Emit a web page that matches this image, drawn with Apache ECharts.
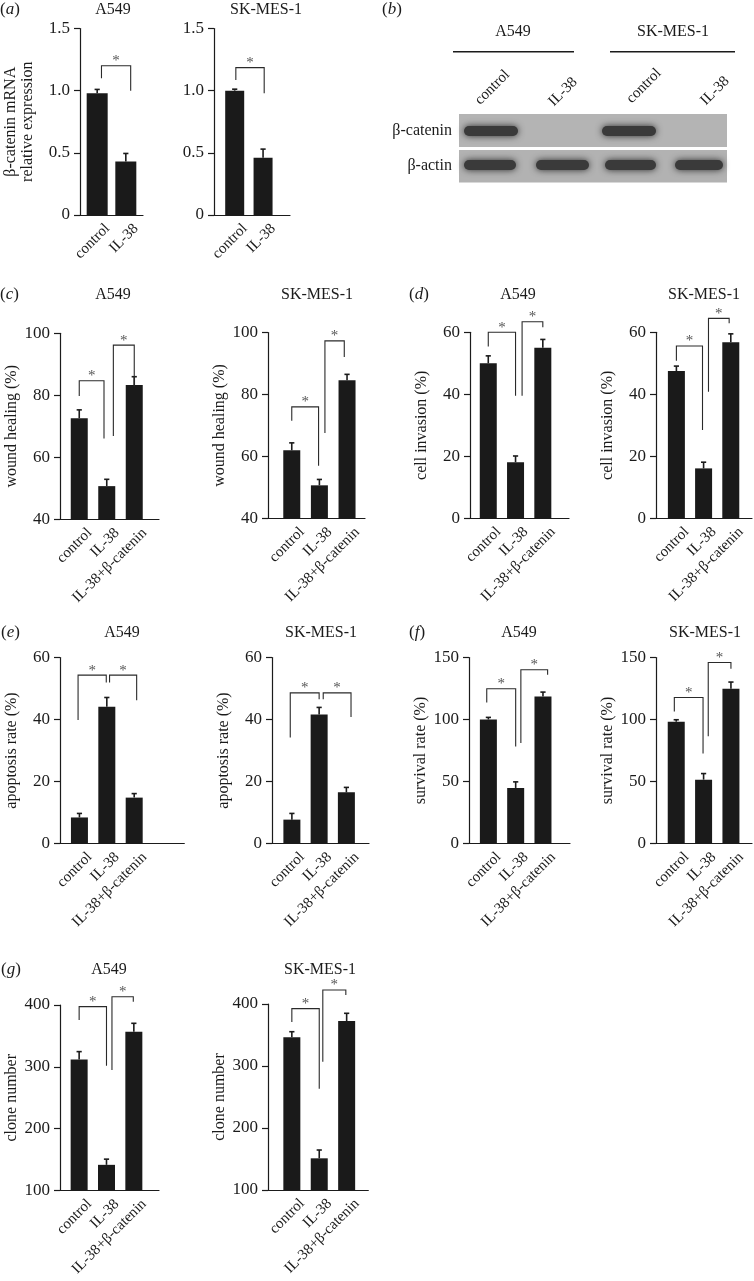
<!DOCTYPE html>
<html><head><meta charset="utf-8">
<script src="https://cdn.jsdelivr.net/npm/echarts@6/dist/echarts.min.js"></script>
<style>html,body{margin:0;padding:0;background:#fff}#c{width:754px;height:1281px}</style>
</head><body><div id="c"></div>
<script>
// ---------- DATA ----------
const cats2 = ['control', 'IL-38'];
const cats3 = ['control', 'IL-38', 'IL-38+β-catenin'];
const cellLines = ['A549', 'SK-MES-1'];

// (a) β-catenin mRNA relative expression
const aA549Mean = [0.98, 0.43];
const aA549Err  = [0.03, 0.065];
const aSKMean   = [1.0, 0.46];
const aSKErr    = [0.012, 0.07];
// significance brackets: [xStart, xEnd, yTop, yLeftEnd, yRightEnd] in data units
const aA549Sig = [[0.15, 1.17, 1.2, 1.1, 1.0]];
const aSKSig   = [[0.04, 1.04, 1.185, 1.086, 0.98]];

// (c) wound healing (%)
const cA549Mean = [72.6, 50.7, 83.3];
const cA549Err  = [2.7, 2.2, 2.7];
const cSKMean   = [62.0, 50.7, 84.6];
const cSKErr    = [2.4, 1.9, 1.9];
const cA549Sig = [[0, 0.9, 84.7, 79.8, 66.1], [1.24, 2.0, 96.2, 66.9, 82.8]];
const cSKSig   = [[0, 0.97, 76.0, 71.5, 57.0], [1.2, 1.9, 97.3, 67.6, 92.1]];

// (d) cell invasion (%)
const dA549Mean = [50.0, 18.1, 55.0];
const dA549Err  = [2.4, 2.0, 2.7];
const dSKMean   = [47.5, 16.1, 56.8];
const dSKErr    = [1.6, 2.0, 2.7];
const dA549Sig = [[0, 1.0, 60.0, 55.4, 39.5], [1.24, 2.0, 63.4, 39.5, 61.6]];
const dSKSig   = [[0, 0.96, 55.6, 50.8, 28.5], [1.18, 1.94, 64.5, 40.8, 62.9]];

// (e) apoptosis rate (%)
const eA549Mean = [8.4, 44.1, 14.8];
const eA549Err  = [1.3, 3.0, 1.3];
const eSKMean   = [7.7, 41.6, 16.5];
const eSKErr    = [2.0, 2.3, 1.6];
const eA549Sig = [[-0.05, 0.98, 54.3, 39.8, 51.9], [1.1, 2.09, 54.3, 51.9, 46.2]];
const eSKSig   = [[-0.06, 1.0, 48.6, 34.2, 46.5], [1.15, 2.17, 48.6, 46.5, 40.8]];

// (f) survival rate (%)
const fA549Mean = [100.0, 44.8, 118.6];
const fA549Err  = [1.7, 4.9, 3.5];
const fSKMean   = [98.2, 51.5, 124.8];
const fSKErr    = [1.6, 4.9, 5.4];
const fA549Sig = [[-0.06, 1.0, 124.8, 113.8, 78.3], [1.19, 2.17, 140.1, 81.1, 136.1]];
const fSKSig   = [[-0.07, 0.98, 117.8, 106.5, 72.5], [1.17, 2.0, 146.0, 86.4, 140.9]];

// (g) clone number
const gA549Mean = [312, 141.5, 356.9];
const gA549Err  = [12.6, 9.2, 13.5];
const gSKMean   = [346.3, 151.1, 372.6];
const gSKErr    = [9.0, 13.4, 12.4];
const gA549Sig = [[0, 1.0, 397.3, 375.8, 301.9], [1.2, 1.98, 413.4, 295.0, 405.4]];
const gSKSig   = [[0, 1.0, 392.6, 371.0, 263.5], [1.13, 1.97, 422.6, 306.9, 414.5]];

// y-axis scales [min, max, interval]
const aScale = [0, 1.5, 0.5];
const cScale = [40, 100, 20];
const dScale = [0, 60, 20];
const eScale = [0, 60, 20];
const fScale = [0, 150, 50];
const gScale = [100, 400, 100];

// western blot lanes (b)
const blotLanes = ['control', 'IL-38', 'control', 'IL-38'];
const blotRows = ['β-catenin', 'β-actin'];

// ---------- LAYOUT / STYLE ----------
const FONT = 'Liberation Serif';
const INK = '#1b1b1b';
const W = 754, H = 1281;
const LABEL_SHIFT_PX = 5;

const panels = [
  {cats: cats2, mean: aA549Mean, err: aA549Err, sig: aA549Sig, sc: aScale, dec: 1, name: 'β-catenin mRNA\nrelative expression', title: cellLines[0],
   box: [80, 143, 28.5, 215], xr: [-0.6, 1.6], bw: 21, tx: 113, ty: 10, gap: 44},
  {cats: cats2, mean: aSKMean, err: aSKErr, sig: aSKSig, sc: aScale, dec: 1, name: '', title: cellLines[1],
   box: [214, 290, 28.5, 215], xr: [-0.73, 1.95], bw: 19, tx: 266, ty: 10, gap: 44},
  {cats: cats3, mean: cA549Mean, err: cA549Err, sig: cA549Sig, sc: cScale, dec: 0, name: 'wound healing (%)', title: cellLines[0],
   box: [60, 159, 333.3, 519.3], xr: [-0.7, 2.9], bw: 17, tx: 113, ty: 295, gap: 40},
  {cats: cats3, mean: cSKMean, err: cSKErr, sig: cSKSig, sc: cScale, dec: 0, name: 'wound healing (%)', title: cellLines[1],
   box: [268, 365, 332.5, 518.5], xr: [-0.86, 2.65], bw: 17, tx: 317, ty: 295, gap: 40},
  {cats: cats3, mean: dA549Mean, err: dA549Err, sig: dA549Sig, sc: dScale, dec: 0, name: 'cell invasion (%)', title: cellLines[0],
   box: [470, 569, 332.3, 518.3], xr: [-0.67, 2.96], bw: 17, tx: 518, ty: 295, gap: 40},
  {cats: cats3, mean: dSKMean, err: dSKErr, sig: dSKSig, sc: dScale, dec: 0, name: 'cell invasion (%)', title: cellLines[1],
   box: [656, 752, 332.3, 518.3], xr: [-0.75, 2.78], bw: 17, tx: 704, ty: 295, gap: 40},
  {cats: cats3, mean: eA549Mean, err: eA549Err, sig: eA549Sig, sc: eScale, dec: 0, name: 'apoptosis rate (%)', title: cellLines[0],
   box: [60, 184.3, 657.5, 843.5], xr: [-0.71, 3.83], bw: 17, tx: 122, ty: 633, gap: 40},
  {cats: cats3, mean: eSKMean, err: eSKErr, sig: eSKSig, sc: eScale, dec: 0, name: 'apoptosis rate (%)', title: cellLines[1],
   box: [272, 369, 657.5, 843.5], xr: [-0.73, 2.83], bw: 17, tx: 321, ty: 633, gap: 40},
  {cats: cats3, mean: fA549Mean, err: fA549Err, sig: fA549Sig, sc: fScale, dec: 0, name: 'survival rate (%)', title: cellLines[0],
   box: [469, 570, 657.5, 843.5], xr: [-0.71, 2.99], bw: 17, tx: 519, ty: 633, gap: 40},
  {cats: cats3, mean: fSKMean, err: fSKErr, sig: fSKSig, sc: fScale, dec: 0, name: 'survival rate (%)', title: cellLines[1],
   box: [656, 752, 657.5, 843.5], xr: [-0.74, 2.77], bw: 17, tx: 705, ty: 633, gap: 40},
  {cats: cats3, mean: gA549Mean, err: gA549Err, sig: gA549Sig, sc: gScale, dec: 0, name: 'clone number', title: cellLines[0],
   box: [60, 159, 1005, 1190.5], xr: [-0.7, 2.92], bw: 17, tx: 109, ty: 970, gap: 40},
  {cats: cats3, mean: gSKMean, err: gSKErr, sig: gSKSig, sc: gScale, dec: 0, name: 'clone number', title: cellLines[1],
   box: [268, 368.3, 1004, 1190], xr: [-0.87, 2.79], bw: 17, tx: 320, ty: 970, gap: 40}
];

function errRender(params, api) {
  const x = api.value(0), m = api.value(1), e = api.value(2);
  const p0 = api.coord([x, m]), p1 = api.coord([x, m + e]);
  const hw = 2.6;
  const st = {stroke: INK, lineWidth: 1.6};
  return {type: 'group', children: [
    {type: 'line', shape: {x1: p0[0], y1: p0[1], x2: p1[0], y2: p1[1]}, style: st},
    {type: 'line', shape: {x1: p1[0] - hw, y1: p1[1], x2: p1[0] + hw, y2: p1[1]}, style: st}
  ]};
}
function sigRender(params, api) {
  const x1 = api.value(0), x2 = api.value(1), yt = api.value(2), yl = api.value(3), yr = api.value(4);
  const a = api.coord([x1, yl]), b = api.coord([x1, yt]), c = api.coord([x2, yt]), d = api.coord([x2, yr]);
  return {type: 'group', children: [
    {type: 'polyline', shape: {points: [a, b, c, d]}, style: {stroke: '#2a2a2a', lineWidth: 1.1, fill: null}},
    {type: 'text', x: (b[0] + c[0]) / 2, y: b[1] - 4.5,
     style: {text: '*', fill: '#555', font: '15px "' + FONT + '"', align: 'center', verticalAlign: 'middle', textAlign: 'center', textVerticalAlign: 'middle'}}
  ]};
}

const grid = [], xAxis = [], yAxis = [], series = [], graphic = [];
const txt = (t, x, y, o) => Object.assign({type: 'text', x: x, y: y, silent: true,
  style: Object.assign({text: t, fill: INK, font: '16px "' + FONT + '"', align: 'center', verticalAlign: 'middle', textAlign: 'center', textVerticalAlign: 'middle'}, (o && o.style) || {})},
  o ? {rotation: o.rotation || 0} : {});

panels.forEach((p, i) => {
  const [l, r, t, b] = p.box;
  grid.push({left: l, width: r - l, top: t, height: b - t, containLabel: false, outerBoundsMode: 'none'});
  const ax = {color: INK, width: 1.2};
  const ppu = (r - l) / (p.xr[1] - p.xr[0]);
  const shift = LABEL_SHIFT_PX / ppu;
  const cv = p.cats.map((c, j) => j + shift);
  xAxis.push({gridIndex: i, type: 'value', min: p.xr[0], max: p.xr[1],
    axisLine: {show: true, onZero: false, lineStyle: ax}, axisTick: {show: false}, splitLine: {show: false},
    axisLabel: {rotate: 45, customValues: cv, margin: 6, verticalAlign: 'top', fontFamily: FONT, fontSize: 15, color: INK,
      formatter: v => p.cats[Math.round(v - shift)] || ''}});
  yAxis.push({gridIndex: i, type: 'value', min: p.sc[0], max: p.sc[1], interval: p.sc[2],
    axisLine: {show: true, onZero: false, lineStyle: ax},
    axisTick: {show: true, inside: false, length: 6, lineStyle: ax}, splitLine: {show: false},
    axisLabel: {margin: 10, fontFamily: FONT, fontSize: 17, color: INK,
      formatter: v => (p.dec && v !== 0) ? v.toFixed(p.dec) : String(v)},
    name: p.name, nameLocation: 'middle', nameRotate: 90, nameGap: p.gap,
    nameTextStyle: {fontFamily: FONT, fontSize: 16, color: INK, lineHeight: 17}});
  series.push({type: 'bar', xAxisIndex: i, yAxisIndex: i, barWidth: p.bw, clip: true,
    itemStyle: {color: '#1a1a1a'}, data: p.mean.map((m, j) => [j, m]), silent: true, z: 2});
  series.push({type: 'custom', xAxisIndex: i, yAxisIndex: i, renderItem: errRender, clip: false,
    data: p.mean.map((m, j) => [j, m, p.err[j]]), encode: {x: 0, y: 1}, silent: true, z: 3});
  series.push({type: 'custom', xAxisIndex: i, yAxisIndex: i, renderItem: sigRender, clip: false,
    data: p.sig, encode: {x: [0, 1], y: [2, 3, 4]}, silent: true, z: 4});
  graphic.push(txt(p.title, p.tx, p.ty));
});

// panel letters
const letters = [['a', 0, 10], ['b', 382, 10], ['c', 0, 295], ['d', 409, 295], ['e', 1, 633], ['f', 409, 633], ['g', 1, 970]];
letters.forEach(([s, x, y]) => {
  graphic.push({type: 'text', x: x, y: y, silent: true, style: {text: '{p|(}{i|' + s + '}{p|)}', align: 'left', verticalAlign: 'middle', textAlign: 'left', textVerticalAlign: 'middle',
    rich: {p: {fontFamily: FONT, fontSize: 17, fill: INK, color: INK}, i: {fontFamily: FONT, fontSize: 17, fontStyle: 'italic', fill: INK, color: INK}}}});
});

// (b) western blot
graphic.push(txt(cellLines[0], 513, 32));
graphic.push(txt(cellLines[1], 673, 32));
graphic.push({type: 'line', silent: true, shape: {x1: 453, y1: 51.7, x2: 574, y2: 51.7}, style: {stroke: INK, lineWidth: 1.4}});
graphic.push({type: 'line', silent: true, shape: {x1: 610, y1: 51.7, x2: 735, y2: 51.7}, style: {stroke: INK, lineWidth: 1.4}});
const laneLabelPos = [[492.5, 87.5], [563, 92], [644, 86], [715, 91]];
blotLanes.forEach((s, k) => graphic.push(txt(s, laneLabelPos[k][0], laneLabelPos[k][1], {rotation: Math.PI / 4, style: {font: '15px "' + FONT + '"'}})));
graphic.push(txt(blotRows[0], 452, 130.5, {style: {align: 'right', textAlign: 'right'}}));
graphic.push(txt(blotRows[1], 452, 165.5, {style: {align: 'right', textAlign: 'right'}}));
graphic.push({type: 'rect', silent: true, shape: {x: 459, y: 114, width: 268, height: 33}, style: {fill: '#b4b4b4'}});
graphic.push({type: 'rect', silent: true, shape: {x: 459, y: 150, width: 268, height: 32.5}, style: {fill: '#b2b2b2'}});
const bands = [[464, 126, 54], [602, 126, 54], [464, 160, 52], [536, 160, 53], [605, 160, 51], [675, 160, 48]];
bands.forEach(([x, y, w]) => graphic.push({type: 'rect', silent: true, shape: {x: x, y: y, width: w, height: 10, r: 5},
  style: {fill: '#3a3a3a', shadowBlur: 7, shadowColor: 'rgba(45,45,45,1)'}}));

const chart = echarts.init(document.getElementById('c'), null, {renderer: 'canvas', width: W, height: H});
chart.setOption({animation: false, backgroundColor: '#fff', grid, xAxis, yAxis, series, graphic});
</script></body></html>
